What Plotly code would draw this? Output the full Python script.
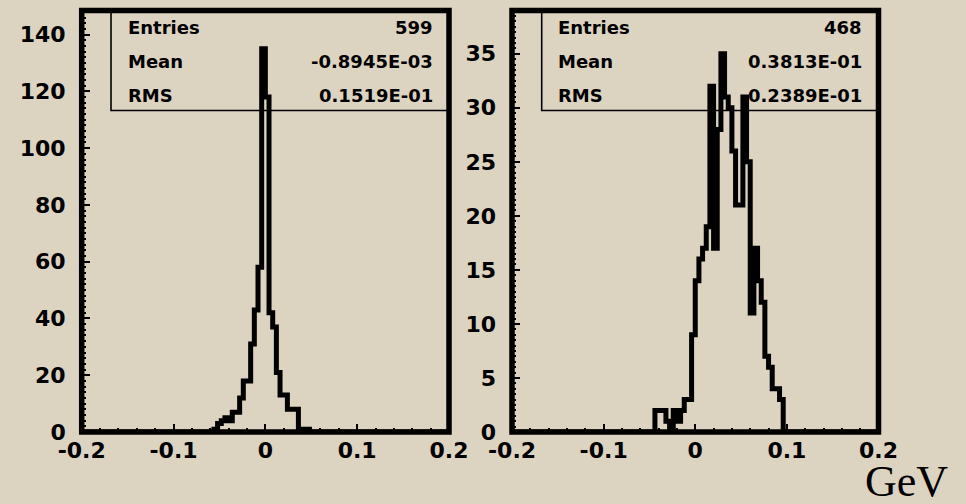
import numpy as np
import plotly.graph_objects as go

# ---------------- data ----------------
x_min, x_max, bin_w = -0.2, 0.2, 0.004          # 100 bins, GeV

left_first_edge = -0.060
left_counts = [0, 1, 3, 4, 5, 4, 7, 7, 12, 18, 18, 31, 43, 58, 135,
               118, 42, 37, 21, 13, 13, 8, 8, 8, 1, 1, 1]

right_first_edge = -0.048
right_counts = [0, 2, 2, 2, 1, 0, 2, 1, 2, 3, 3, 9, 14, 16, 17, 19,
                32, 17, 28, 35, 31, 30, 26, 21, 21, 31, 25, 11, 17, 14,
                12, 7, 6, 4, 4, 3]

x_tick_vals = [-0.2, -0.1, 0, 0.1, 0.2]
x_tick_text = ["-0.2", "-0.1", "0", "0.1", "0.2"]
left_y_ticks = [0, 20, 40, 60, 80, 100, 120, 140]
right_y_ticks = [0, 5, 10, 15, 20, 25, 30, 35]
left_y_max = 148.5
right_y_max = 39

stat_names = ["Entries", "Mean", "RMS"]
left_stat_values = ["599", "-0.8945E-03", "0.1519E-01"]
right_stat_values = ["468", "0.3813E-01", "0.2389E-01"]
unit_label = "GeV"

# ---------------- build step outlines ----------------
n_bins = int(round((x_max - x_min) / bin_w))
edges = np.round(np.linspace(x_min, x_max, n_bins + 1), 6)


def full_counts(first_edge, counts):
    arr = np.zeros(n_bins)
    off = int(round((first_edge - x_min) / bin_w))
    arr[off:off + len(counts)] = counts
    return np.append(arr, arr[-1])


left_y = full_counts(left_first_edge, left_counts)
right_y = full_counts(right_first_edge, right_counts)

W, H = 966, 504
BG = "#dcd3c1"


def px(x):
    return x / W


def py(y):
    return 1 - y / H


# plot areas (pixel positions of frame centre lines)
L = dict(x0=81.7, x1=449.0)
R = dict(x0=512.0, x1=878.5)
TOP, BOT = 10.5, 432.0

fig = go.Figure()
fig.add_trace(go.Scatter(x=edges, y=left_y, mode="lines", line_shape="hv",
                         line=dict(color="black", width=5), xaxis="x", yaxis="y",
                         hoverinfo="skip"))
fig.add_trace(go.Scatter(x=edges, y=right_y, mode="lines", line_shape="hv",
                         line=dict(color="black", width=5), xaxis="x2", yaxis="y2",
                         hoverinfo="skip"))

tickfont = dict(family="DejaVu Sans", size=22, color="black", weight="bold")


def xaxis(dom, anchor):
    return dict(domain=dom, range=[x_min, x_max], anchor=anchor, automargin=False,
                tickmode="array", tickvals=x_tick_vals, ticktext=x_tick_text,
                ticks="inside", ticklen=8, tickwidth=2, tickcolor="black",
                ticklabelstandoff=3,
                minor=dict(ticks="inside", dtick=0.02, tick0=0, ticklen=4,
                           tickwidth=2, tickcolor="black"),
                showgrid=False, zeroline=False, showline=False,
                tickfont=tickfont, fixedrange=True)


def yaxis(dom, anchor, ymax, ticks, minor_dt):
    return dict(domain=dom, range=[0, ymax], anchor=anchor, automargin=False,
                tickmode="array", tickvals=ticks, ticktext=[str(t) for t in ticks],
                ticks="inside", ticklen=8, tickwidth=2, tickcolor="black",
                ticklabelstandoff=15,
                minor=dict(ticks="inside", dtick=minor_dt, tick0=0, ticklen=4,
                           tickwidth=2, tickcolor="black"),
                showgrid=False, zeroline=False, showline=False,
                tickfont=tickfont, fixedrange=True)


ydom = [py(BOT), py(TOP)]
shapes = []
annotations = []
for box, stat_vals, name_x, val_x, box_x0 in [
    (L, left_stat_values, 125.5, 434.5, 111.0),
    (R, right_stat_values, 556.0, 863.5, 541.7),
]:
    # frame
    shapes.append(dict(type="rect", xref="paper", yref="paper",
                       x0=px(box["x0"]), x1=px(box["x1"]), y0=py(BOT), y1=py(TOP),
                       line=dict(color="black", width=5.5), layer="above"))
    # statistics box
    shapes.append(dict(type="rect", xref="paper", yref="paper",
                       x0=px(box_x0), x1=px(box["x1"]), y0=py(110.5), y1=py(TOP),
                       line=dict(color="black", width=1.6), layer="above"))
    for i, (nm, val) in enumerate(zip(stat_names, stat_vals)):
        yc = [27.5, 61.5, 95.0][i]
        annotations.append(dict(text=nm, xref="paper", yref="paper", x=px(name_x),
                                y=py(yc), xanchor="left", yanchor="middle", showarrow=False,
                                font=dict(family="DejaVu Sans", size=18, color="black",
                                          weight="bold")))
        annotations.append(dict(text=val, xref="paper", yref="paper", x=px(val_x),
                                y=py(yc), xanchor="right", yanchor="middle", showarrow=False,
                                font=dict(family="DejaVu Sans", size=18, color="black",
                                          weight="bold")))

annotations.append(dict(text=unit_label, xref="paper", yref="paper", x=px(950),
                        y=py(481), xanchor="right", yanchor="middle", showarrow=False,
                        font=dict(family="Liberation Serif", size=44, color="black")))

fig.update_layout(
    width=W, height=H, margin=dict(l=0, r=0, t=0, b=0, autoexpand=False),
    paper_bgcolor=BG, plot_bgcolor="rgba(0,0,0,0)", showlegend=False,
    xaxis=xaxis([px(L["x0"]), px(L["x1"])], "y"),
    yaxis=yaxis(ydom, "x", left_y_max, left_y_ticks, 2),
    xaxis2=xaxis([px(R["x0"]), px(R["x1"])], "y2"),
    yaxis2=yaxis(ydom, "x2", right_y_max, right_y_ticks, 0.5),
    shapes=shapes, annotations=annotations,
)

fig.write_html("out.html")
